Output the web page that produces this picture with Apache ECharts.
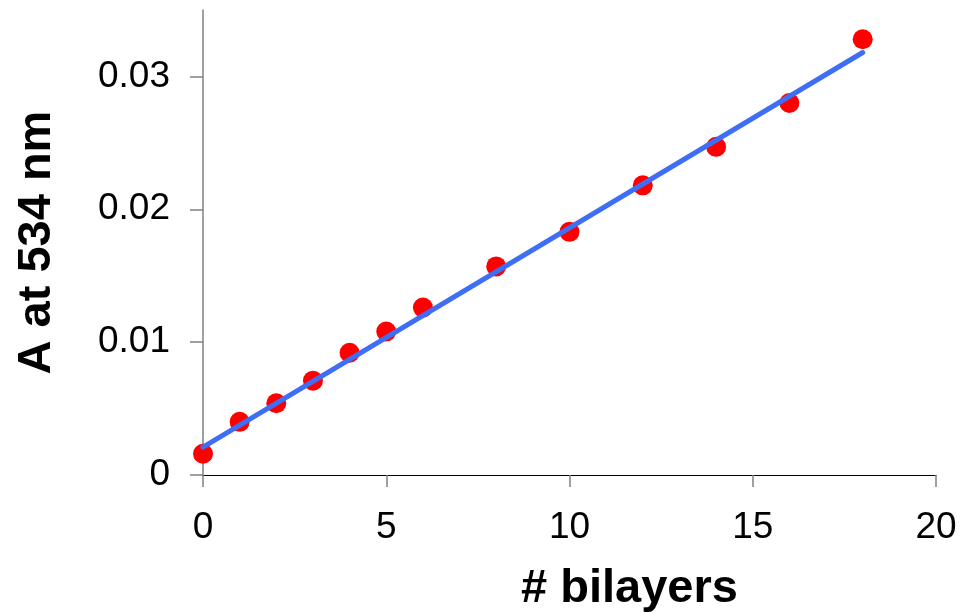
<!DOCTYPE html>
<html>
<head>
<meta charset="utf-8">
<script src="https://cdn.jsdelivr.net/npm/echarts@6/dist/echarts.min.js"></script>
<style>
html,body{margin:0;padding:0;background:#fff;}
#chart{width:961px;height:612px;}
</style>
</head>
<body>
<div id="chart"></div>
<script>
// Data
var bilayers = [0, 1, 2, 3, 4, 5, 6, 8, 10, 12, 14, 16, 18];
var absorbance = [0.0016, 0.0040, 0.0054, 0.0071, 0.0092, 0.0108, 0.0126, 0.0157, 0.0183, 0.0218, 0.0247, 0.0280, 0.0328];
var fitX = [0, 18];
var fitY = [0.0021, 0.0318];
var yTicks = [0, 0.01, 0.02, 0.03];
var xTicks = [0, 5, 10, 15, 20];

var FONT = "'Liberation Sans', Arial, sans-serif";
var chart = echarts.init(document.getElementById('chart'), null, {renderer: 'canvas'});

var scatterData = bilayers.map(function (x, i) { return [x, absorbance[i]]; });
var fitData = fitX.map(function (x, i) { return [x, fitY[i]]; });

chart.setOption({
  animation: false,
  backgroundColor: '#ffffff',
  grid: {left: 203, right: 25, top: 10, bottom: 137, containLabel: false, outerBoundsMode: 'none'},
  xAxis: {
    type: 'value',
    min: 0, max: 20, interval: 5,
    name: '# bilayers',
    nameLocation: 'middle',
    nameGap: 91,
    nameTextStyle: {fontFamily: FONT, fontWeight: 'bold', fontSize: 47, color: '#000', padding: [0, 0, 0, 120]},
    axisLine: {show: true, onZero: false, lineStyle: {color: '#000', width: 1.2}},
    axisTick: {show: true, inside: false, length: 12, customValues: xTicks, lineStyle: {color: '#808080', width: 1.5}},
    axisLabel: {show: true, customValues: xTicks, margin: 34, fontFamily: FONT, fontSize: 37, color: '#000'},
    splitLine: {show: false}
  },
  yAxis: {
    type: 'value',
    min: 0, max: 0.035, interval: 0.01,
    name: 'A at 534 nm',
    nameLocation: 'middle',
    nameGap: 142,
    nameRotate: 90,
    nameTextStyle: {fontFamily: FONT, fontWeight: 'bold', fontSize: 47, color: '#000'},
    axisLine: {show: true, onZero: false, lineStyle: {color: '#808080', width: 1.5}},
    axisTick: {show: true, inside: false, length: 13, customValues: yTicks, lineStyle: {color: '#808080', width: 1.5}},
    axisLabel: {
      show: true, customValues: yTicks, margin: 33, fontFamily: FONT, fontSize: 37, color: '#000',
      formatter: function (v) { return v === 0 ? '0' : v.toFixed(2); }
    },
    splitLine: {show: false}
  },
  series: [
    {
      type: 'scatter',
      data: scatterData,
      symbol: 'circle',
      symbolSize: 20,
      itemStyle: {color: '#ff0000', opacity: 1},
      z: 2
    },
    {
      type: 'line',
      data: fitData,
      showSymbol: false,
      symbol: 'none',
      lineStyle: {color: '#3d6ef5', width: 5, cap: 'round'},
      z: 3
    }
  ]
});
</script>
</body>
</html>
